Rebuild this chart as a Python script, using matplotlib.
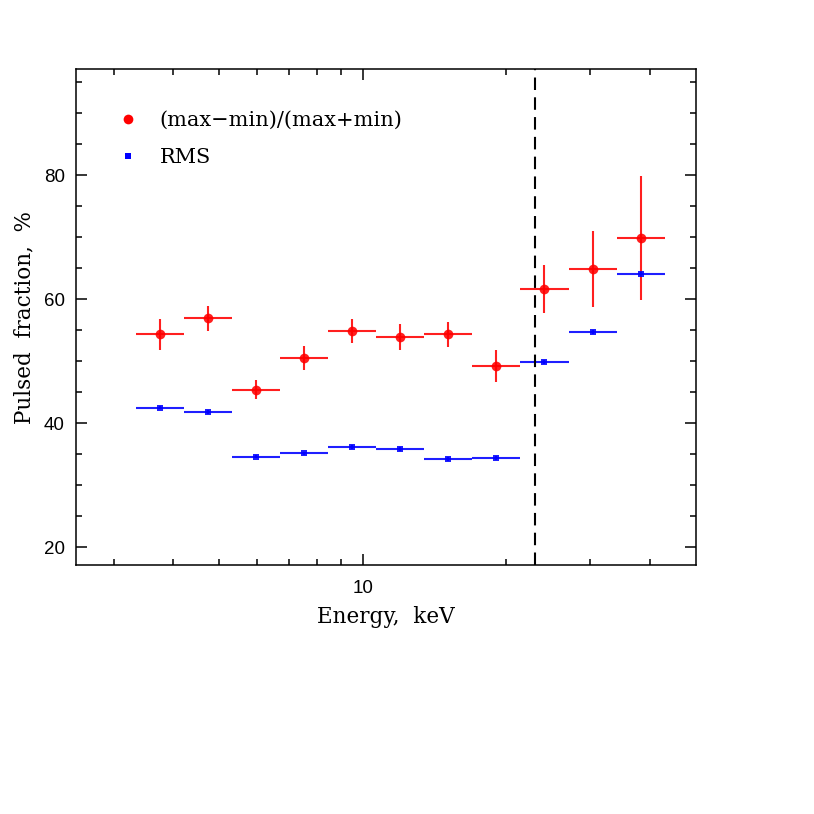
import matplotlib
matplotlib.use("Agg")
import matplotlib.pyplot as plt
import numpy as np
from matplotlib.lines import Line2D
from matplotlib.ticker import FixedLocator, NullFormatter, FixedFormatter

# Energy bin edges (keV)
bin_edges = [3.34, 4.21, 5.31, 6.70, 8.46, 10.66, 13.45, 16.97, 21.40, 27.00, 34.06, 42.96]

# Pulsed fraction (max-min)/(max+min), %
pf_minmax = [54.3, 56.9, 45.4, 50.5, 54.8, 53.9, 54.3, 49.2, 61.6, 64.9, 69.9]
pf_minmax_err = [2.5, 2.0, 1.6, 1.9, 1.9, 2.15, 2.0, 2.65, 3.9, 6.15, 10.0]

# RMS pulsed fraction, %
pf_rms = [42.5, 41.8, 34.6, 35.1, 36.1, 35.8, 34.25, 34.4, 49.9, 54.7, 64.1]
pf_rms_err = [0.3, 0.3, 0.3, 0.3, 0.3, 0.3, 0.3, 0.3, 0.3, 0.3, 0.3]

dashed_energy = 23.0
x_major = [10]
x_minor = [3, 4, 5, 6, 7, 8, 9, 20, 30, 40]
y_major = [20, 40, 60, 80]
y_minor = [25, 30, 35, 45, 50, 55, 65, 70, 75, 85, 90, 95]

edges = np.array(bin_edges)
centers = np.sqrt(edges[:-1] * edges[1:])
xerr = np.vstack([centers - edges[:-1], edges[1:] - centers])

fig = plt.figure(figsize=(8.14, 8.14), dpi=100)
ax = fig.add_axes([0.0934, 0.3059, 0.7617, 0.6093])

ax.errorbar(centers, pf_minmax, xerr=xerr, yerr=pf_minmax_err, fmt='o',
            color='#ff0000', ms=7, elinewidth=1.5, capsize=0, alpha=0.88,
            markeredgewidth=0)
ax.errorbar(centers, pf_rms, xerr=xerr, yerr=pf_rms_err, fmt='s',
            color='#0000ff', ms=4, elinewidth=1.5, capsize=0, alpha=0.88,
            markeredgewidth=0)

ax.axvline(dashed_energy, color='black', lw=1.5, ls=(0, (6, 3.5)))

ax.set_xscale('log')
ax.set_xlim(2.5, 50)
ax.set_ylim(17.1, 97.1)

ax.xaxis.set_major_locator(FixedLocator(x_major))
ax.xaxis.set_major_formatter(FixedFormatter([str(v) for v in x_major]))
ax.xaxis.set_minor_locator(FixedLocator(x_minor))
ax.xaxis.set_minor_formatter(NullFormatter())
ax.yaxis.set_major_locator(FixedLocator(y_major))
ax.yaxis.set_minor_locator(FixedLocator(y_minor))

ax.tick_params(which='both', direction='in', top=True, right=True, width=1.1)
ax.tick_params(which='major', length=8)
ax.tick_params(which='minor', length=4)
ax.tick_params(axis='x', which='major', pad=11)
ax.tick_params(axis='y', which='major', pad=8)
for lab in ax.get_xticklabels() + ax.get_yticklabels():
    lab.set_fontfamily('Liberation Sans')
    lab.set_fontsize(13.5)
for s in ax.spines.values():
    s.set_linewidth(1.1)

ax.set_xlabel('Energy,  keV', fontfamily='DejaVu Serif', fontsize=15.5, labelpad=6)
ax.set_ylabel('Pulsed  fraction,  %', fontfamily='DejaVu Serif', fontsize=15.5, labelpad=6)

handles = [
    Line2D([], [], ls='none', marker='o', color='#ff0000', ms=7, markeredgewidth=0),
    Line2D([], [], ls='none', marker='s', color='#0000ff', ms=4, markeredgewidth=0),
]
ax.legend(handles, ['(max\u2212min)/(max+min)', 'RMS'], loc='upper left',
          bbox_to_anchor=(0.037, 0.953), frameon=False,
          prop={'family': 'DejaVu Serif', 'size': 15}, handlelength=1.0,
          handletextpad=1.0, labelspacing=0.88)

fig.savefig('out.png', dpi=100)
